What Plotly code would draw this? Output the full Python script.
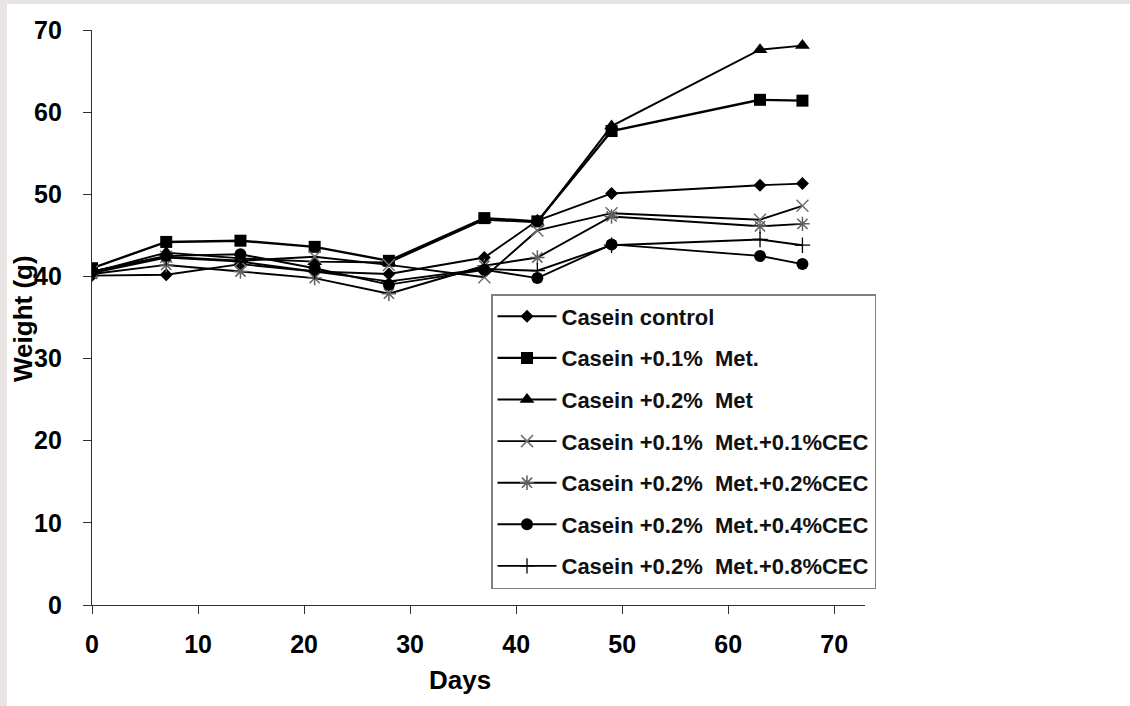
import plotly.graph_objects as go

# ---- data ----
days = [0, 7, 14, 21, 28, 37, 42, 49, 63, 67]

series_names = [
    "Casein control",
    "Casein +0.1%  Met.",
    "Casein +0.2%  Met",
    "Casein +0.1%  Met.+0.1%CEC",
    "Casein +0.2%  Met.+0.2%CEC",
    "Casein +0.2%  Met.+0.4%CEC",
    "Casein +0.2%  Met.+0.8%CEC",
]

casein_control = [40.1, 40.2, 41.5, 40.6, 40.3, 42.3, 46.8, 50.1, 51.1, 51.3]
met_01 = [41.0, 44.2, 44.35, 43.6, 41.9, 47.1, 46.7, 57.7, 61.5, 61.4]
met_02 = [40.5, 42.9, 42.2, 41.8, 41.7, 46.9, 46.6, 58.3, 67.6, 68.1]
met_01_cec_01 = [40.6, 42.4, 41.9, 42.4, 41.4, 39.9, 45.6, 47.7, 46.9, 48.6]
met_02_cec_02 = [40.3, 41.4, 40.6, 39.8, 37.9, 41.3, 42.3, 47.3, 46.1, 46.4]
met_02_cec_04 = [40.6, 42.5, 42.7, 41.0, 39.0, 40.8, 39.8, 43.9, 42.5, 41.5]
met_02_cec_08 = [40.4, 42.3, 41.8, 40.6, 39.4, 40.9, 40.7, 43.8, 44.5, 43.8]

x_ticks = [0, 10, 20, 30, 40, 50, 60, 70]
y_ticks = [0, 10, 20, 30, 40, 50, 60, 70]

# ---- styles ----
FONT = "Liberation Sans, Arial, sans-serif"
styles = [
    dict(symbol="diamond", size=10, color="black", line=dict(width=0), lw=1.9),
    dict(symbol="square", size=12, color="black", line=dict(width=0), lw=2.4),
    dict(symbol="triangle-up", size=13, color="black", line=dict(width=0), lw=1.9),
    dict(symbol="x-thin-open", size=12, color="#707070", line=dict(color="#707070", width=1.5), lw=1.9),
    dict(symbol="asterisk-open", size=12, color="#606060", line=dict(color="#606060", width=1.5), lw=1.9),
    dict(symbol="circle", size=12, color="black", line=dict(width=0), lw=1.9),
    dict(symbol="cross-thin-open", size=11, color="black", line=dict(color="black", width=1.3), lw=1.9),
]
all_series = [casein_control, met_01, met_02, met_01_cec_01,
              met_02_cec_02, met_02_cec_04, met_02_cec_08]

fig = go.Figure()
for i, (name, vals, st) in enumerate(zip(series_names, all_series, styles)):
    fig.add_trace(go.Scatter(
        x=days, y=vals, name=name, mode="lines+markers",
        legendgroup=f"g{i}",
        line=dict(color="black", width=st["lw"]),
        marker=dict(symbol=st["symbol"], size=st["size"], color=st["color"],
                    line=st["line"]),
    ))

# plot area in pixels: x 92..865, y 30..605
W, H = 1130, 706
L, R, T, B = 92, 1130 - 865, 30, 706 - 605
pw, ph = W - L - R, H - T - B

def px_x(p):
    return (p - L) / pw

def px_y(p):
    return (H - B - p) / ph

band = "#e9e4e4"
shapes = [
    dict(type="rect", xref="paper", yref="paper",
         x0=px_x(0), x1=px_x(7), y0=px_y(706), y1=px_y(0),
         fillcolor=band, line=dict(width=0), layer="below"),
    dict(type="rect", xref="paper", yref="paper",
         x0=px_x(0), x1=px_x(1130), y0=px_y(4), y1=px_y(0),
         fillcolor=band, line=dict(width=0), layer="below"),
]

axis_common = dict(
    showline=True, linecolor="#303030", linewidth=1.2,
    ticks="outside", ticklen=8, tickcolor="#303030", tickwidth=1.2,
    showgrid=False, zeroline=False,
    tickfont=dict(family=FONT, size=25, color="black", weight="bold"),
)

title_font = dict(family=FONT, size=26, color="black", weight="bold")

fig.update_layout(
    width=W, height=H, autosize=False,
    margin=dict(l=L, r=R, t=T, b=B),
    paper_bgcolor="white", plot_bgcolor="white",
    shapes=shapes,
    xaxis=dict(range=[0, 72.9], tickvals=x_ticks, ticklabelstandoff=9, **axis_common),
    yaxis=dict(range=[0, 70], tickvals=y_ticks, ticklabelstandoff=16, **axis_common),
    legend=dict(x=px_x(491), y=px_y(294), xanchor="left", yanchor="top",
                bordercolor="#808080", borderwidth=1.5, bgcolor="white",
                font=dict(family=FONT, size=22, color="#111111", weight="bold"),
                tracegroupgap=10, itemwidth=59, traceorder="grouped"),
    annotations=[
        dict(text="Days", xref="paper", yref="paper", x=px_x(460), y=0,
             yanchor="middle", xanchor="center", yshift=-75, showarrow=False,
             font=title_font),
        dict(text="Weight (g)", xref="paper", yref="paper", x=px_x(23), y=px_y(319),
             xanchor="center", yanchor="middle", textangle=-90, showarrow=False,
             font=title_font),
    ],
    showlegend=True,
)

fig.write_html("out.html", config={"displayModeBar": False},
               post_script="document.body.style.margin='0';")
